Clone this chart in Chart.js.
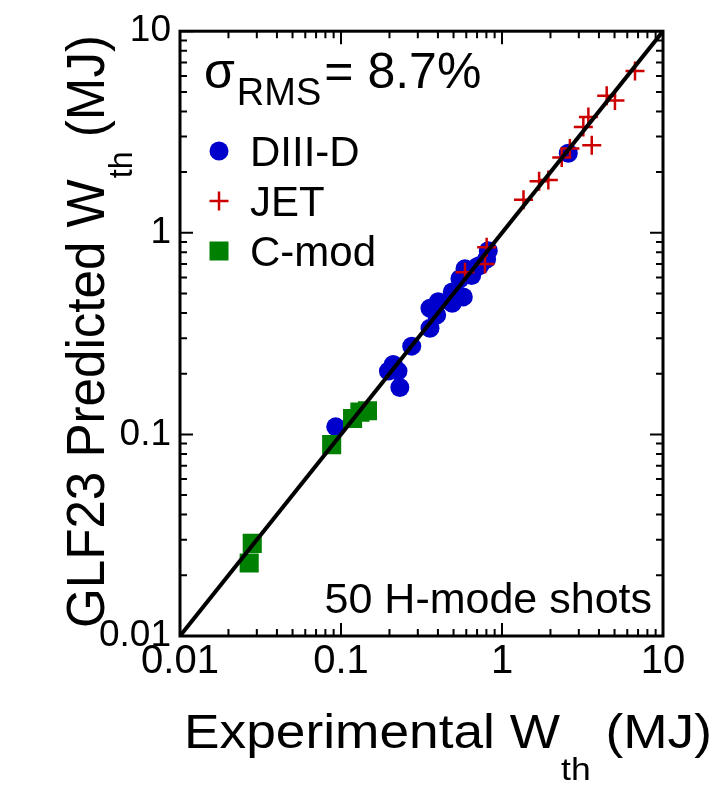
<!DOCTYPE html>
<html lang="en">
<head>
    <meta charset="UTF-8">
    <title>GLF23 predicted vs experimental W_th</title>
    <style>
        body {
            margin: 0;
            background-color: white;
        }
    </style>
</head>
<body>
    <canvas id="grafica" width="715" height="793"></canvas>

    <script src="https://cdn.jsdelivr.net/npm/chart.js"></script>
    <script>
        // Datos (MJ)
        const diiidExp  = [0.822, 0.803, 0.729, 0.700, 0.589, 0.548, 0.648, 0.575, 0.491, 0.491, 0.402, 0.357, 0.393, 0.357, 0.275, 0.211, 0.197, 0.226, 0.232, 0.0927, 2.58];
        const diiidPred = [0.815, 0.741, 0.688, 0.678, 0.663, 0.592, 0.614, 0.481, 0.509, 0.447, 0.455, 0.422, 0.391, 0.336, 0.274, 0.222, 0.206, 0.206, 0.171, 0.109, 2.48];

        const jetExp  = [6.70, 4.47, 5.03, 3.44, 3.20, 3.61, 2.64, 2.35, 1.94, 1.70, 1.36, 0.803, 0.784, 0.589];
        const jetPred = [6.35, 4.79, 4.53, 3.75, 3.35, 2.72, 2.62, 2.36, 1.83, 1.80, 1.46, 0.847, 0.701, 0.638];

        const cmodExp  = [0.0269, 0.0281, 0.0875, 0.118, 0.131, 0.146];
        const cmodPred = [0.0230, 0.0288, 0.089, 0.120, 0.129, 0.131];

        const lineaExp  = [0.01, 10];
        const lineaPred = [0.01, 10];

        const tickValores = [0.01, 0.1, 1, 10];
        const tickEtiquetas = ['0.01', '0.1', '1', '10'];

        const FUENTE = "'Liberation Sans', Arial, sans-serif";
        const AZUL = 'rgb(0, 0, 204)';
        const ROJO = 'rgb(204, 0, 0)';
        const VERDE = 'rgb(0, 128, 0)';

        function puntos(xs, ys) {
            return xs.map((x, i) => ({ x: x, y: ys[i] }));
        }

        function etiqueta(v) {
            for (let i = 0; i < tickValores.length; i++) {
                if (Math.abs(Math.log10(v) - Math.log10(tickValores[i])) < 1e-6) return tickEtiquetas[i];
            }
            return '';
        }

        // texto con subindices: partes = [{t, size, dy, gap}]
        function textoRico(ctx, partes, x, y) {
            let cx = x;
            partes.forEach(p => {
                ctx.font = p.size + 'px ' + FUENTE;
                ctx.fillText(p.t, cx, y + (p.dy || 0));
                cx += ctx.measureText(p.t).width + (p.gap || 0);
            });
        }

        function anchoRico(ctx, partes) {
            let w = 0;
            partes.forEach(p => {
                ctx.font = p.size + 'px ' + FUENTE;
                w += ctx.measureText(p.t).width + (p.gap || 0);
            });
            return w;
        }

        // dibuja el texto ajustado a un largo dado (x0 -> x1), en el sistema local
        function textoAjustado(ctx, partes, x0, x1, y) {
            const w = anchoRico(ctx, partes);
            const k = (x1 - x0) / w;
            ctx.save();
            ctx.translate(x0, y);
            ctx.scale(k, 1);
            textoRico(ctx, partes, 0, 0);
            ctx.restore();
        }

        // marcas hacia dentro en los cuatro lados, leyenda y textos
        const decorado = {
            id: 'decorado',
            afterDatasetsDraw(chart) {
                const ctx = chart.ctx;
                const a = chart.chartArea;
                const sx = chart.scales.x;
                const sy = chart.scales.y;
                ctx.save();
                ctx.strokeStyle = 'black';
                ctx.lineWidth = 2;
                const valores = [];
                [0.01, 0.1, 1].forEach(d => {
                    for (let k = 1; k <= 9; k++) valores.push({ v: k * d, mayor: k === 1 });
                });
                valores.push({ v: 10, mayor: true });
                valores.forEach(o => {
                    const len = o.mayor ? 13 : 7;
                    const px = sx.getPixelForValue(o.v);
                    const py = sy.getPixelForValue(o.v);
                    ctx.beginPath();
                    ctx.moveTo(px, a.bottom); ctx.lineTo(px, a.bottom - len);
                    ctx.moveTo(px, a.top); ctx.lineTo(px, a.top + len);
                    ctx.moveTo(a.left, py); ctx.lineTo(a.left + len, py);
                    ctx.moveTo(a.right, py); ctx.lineTo(a.right - len, py);
                    ctx.stroke();
                });
                ctx.lineWidth = 3;
                ctx.strokeRect(a.left, a.top, a.right - a.left, a.bottom - a.top);

                ctx.fillStyle = 'black';
                ctx.textAlign = 'left';
                ctx.textBaseline = 'alphabetic';

                // sigma RMS
                textoRico(ctx, [
                    { t: '\u03C3', size: 50, gap: 2 },
                    { t: 'RMS', size: 38, dy: 17, gap: 3 },
                    { t: '= 8.7%', size: 50 }
                ], 204, 88);

                // leyenda
                const mx = 219;
                ctx.fillStyle = AZUL;
                ctx.beginPath();
                ctx.arc(mx, 151, 9.5, 0, Math.PI * 2);
                ctx.fill();
                ctx.strokeStyle = ROJO;
                ctx.lineWidth = 2.5;
                ctx.beginPath();
                ctx.moveTo(mx - 9.5, 201); ctx.lineTo(mx + 9.5, 201);
                ctx.moveTo(mx, 191.5); ctx.lineTo(mx, 210.5);
                ctx.stroke();
                ctx.fillStyle = VERDE;
                ctx.fillRect(mx - 9.5, 241.5, 19, 19);

                ctx.fillStyle = 'black';
                ctx.font = '42px ' + FUENTE;
                ctx.fillText('DIII-D', 250, 166);
                ctx.fillText('JET', 250, 216);
                ctx.fillText('C-mod', 250, 266);

                ctx.font = '43px ' + FUENTE;
                ctx.textAlign = 'right';
                ctx.fillText('50 H-mode shots', 652, 613);
                ctx.textAlign = 'left';

                // titulo eje x
                textoAjustado(ctx, [
                    { t: 'Experimental W', size: 48, gap: 1 },
                    { t: 'th', size: 32, dy: 32, gap: 0 },
                    { t: ' (MJ)', size: 48 }
                ], 184, 712, 748);

                // titulo eje y
                ctx.save();
                ctx.translate(104, 0);
                ctx.rotate(-Math.PI / 2);
                textoAjustado(ctx, [
                    { t: 'GLF23 Predicted W', size: 54, gap: 1 },
                    { t: 'th', size: 34, dy: 28, gap: 0 },
                    { t: ' (MJ)', size: 54 }
                ], -628, -35, 0);
                ctx.restore();

                ctx.restore();
            }
        };

        const ejeComun = {
            type: 'logarithmic',
            min: 0.01,
            max: 10,
            grid: { display: false, drawTicks: false },
            border: { display: false },
            afterBuildTicks: (scale) => {
                scale.ticks = tickValores.map(v => ({ value: v }));
            }
        };

        new Chart(document.getElementById('grafica').getContext('2d'), {
            type: 'scatter',
            data: {
                datasets: [
                    {
                        label: 'ajuste',
                        data: puntos(lineaExp, lineaPred),
                        showLine: true,
                        borderColor: 'black',
                        borderWidth: 4,
                        pointRadius: 0,
                        order: 0
                    },
                    {
                        label: 'JET',
                        data: puntos(jetExp, jetPred),
                        pointStyle: 'cross',
                        pointRadius: 9.5,
                        borderColor: ROJO,
                        borderWidth: 2.5,
                        order: 1
                    },
                    {
                        label: 'C-mod',
                        data: puntos(cmodExp, cmodPred),
                        pointStyle: 'rect',
                        pointRadius: 13.5,
                        backgroundColor: VERDE,
                        borderWidth: 0,
                        order: 2
                    },
                    {
                        label: 'DIII-D',
                        data: puntos(diiidExp, diiidPred),
                        pointStyle: 'circle',
                        pointRadius: 9.5,
                        backgroundColor: AZUL,
                        borderWidth: 0,
                        order: 3
                    }
                ]
            },
            options: {
                responsive: false,
                animation: false,
                layout: { padding: { left: 0, right: 52, top: 25, bottom: 0 } },
                plugins: {
                    legend: { display: false },
                    tooltip: { enabled: false }
                },
                scales: {
                    x: Object.assign({}, ejeComun, {
                        position: 'bottom',
                        ticks: {
                            callback: etiqueta,
                            autoSkip: false,
                            maxRotation: 0,
                            color: 'black',
                            padding: 2,
                            font: { family: FUENTE, size: 40 }
                        },
                        afterFit: (scale) => { scale.height = 157; }
                    }),
                    y: Object.assign({}, ejeComun, {
                        position: 'left',
                        ticks: {
                            callback: etiqueta,
                            autoSkip: false,
                            color: 'black',
                            padding: 9,
                            font: { family: FUENTE, size: 37 }
                        },
                        afterFit: (scale) => { scale.width = 180; }
                    })
                }
            },
            plugins: [decorado]
        });
    </script>
</body>
</html>
